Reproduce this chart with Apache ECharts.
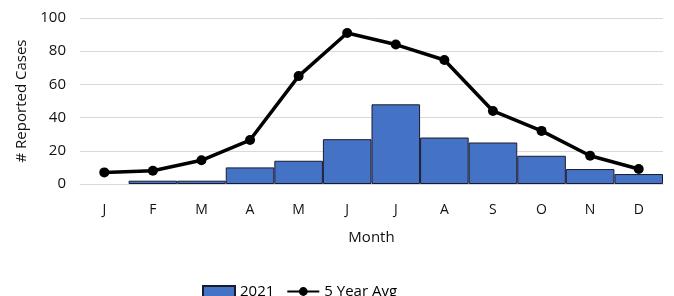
<!DOCTYPE html>
<html>
<head>
<meta charset="utf-8">
<script src="https://cdn.jsdelivr.net/npm/echarts@6/dist/echarts.min.js"></script>
<style>
  html, body { margin: 0; padding: 0; background: #fff; }
  #chart { width: 674px; height: 296px; }
</style>
</head>
<body>
<div id="chart"></div>
<script>
const months = ['J', 'F', 'M', 'A', 'M', 'J', 'J', 'A', 'S', 'O', 'N', 'D'];
// January had no reported cases (no bar drawn)
const cases2021 = [null, 2, 2, 10, 14, 27, 48, 28, 25, 17, 9, 6];
const fiveYearAvg = [7, 8, 14.3, 26.5, 65, 91, 84, 74.7, 44, 32, 17, 9];

const font = 'Open Sans';
const chart = echarts.init(document.getElementById('chart'));

chart.setOption({
  animation: false,
  textStyle: { fontFamily: font },
  grid: { left: 80, right: 11, top: 18, bottom: 112 },
  legend: {
    top: 279,
    left: 197,
    itemGap: 12,
    itemWidth: 32,
    itemHeight: 11,
    textStyle: { fontSize: 15, color: '#000', fontFamily: font },
    data: [
      { name: '2021', icon: 'rect' },
      { name: '5 Year Avg' }
    ]
  },
  xAxis: {
    type: 'category',
    data: months,
    name: 'Month',
    nameLocation: 'middle',
    nameGap: 46,
    nameTextStyle: { fontSize: 15, color: '#111', fontFamily: font },
    axisLine: { lineStyle: { color: '#d9d9d9', width: 1 } },
    axisTick: { show: false },
    axisLabel: { fontSize: 14, color: '#111', margin: 19, interval: 0 }
  },
  yAxis: {
    type: 'value',
    min: 0,
    max: 100,
    interval: 20,
    name: '# Reported Cases',
    nameLocation: 'middle',
    nameGap: 50,
    nameTextStyle: { fontSize: 15, color: '#111', fontFamily: font },
    axisLine: { show: false },
    axisTick: { show: false },
    axisLabel: { fontSize: 15, color: '#111', margin: 14 },
    splitLine: { lineStyle: { color: '#d9d9d9', width: 1 } }
  },
  series: [
    {
      name: '2021',
      type: 'bar',
      data: cases2021,
      barCategoryGap: 0,
      itemStyle: { color: '#4472C4', borderColor: '#1a1a2e', borderWidth: 1 }
    },
    {
      name: '5 Year Avg',
      type: 'line',
      data: fiveYearAvg,
      symbol: 'circle',
      symbolSize: 10,
      itemStyle: { color: '#000' },
      lineStyle: { color: '#000', width: 3.5 }
    }
  ]
});
</script>
</body>
</html>
